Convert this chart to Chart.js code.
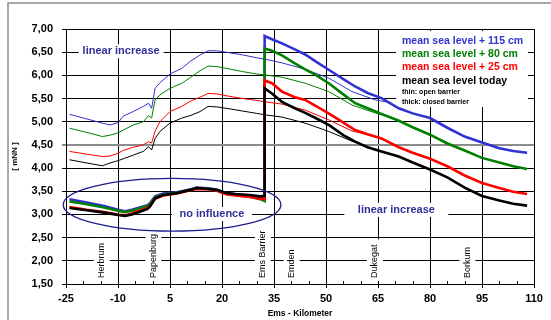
<!DOCTYPE html>
<html>
<head>
<meta charset="utf-8">
<script src="https://cdn.jsdelivr.net/npm/chart.js@4.4.1/dist/chart.umd.min.js"></script>
<style>
    html, body { margin: 0; padding: 0; background: #fff; }
    #wrap { width: 551px; height: 320px; }
</style>
</head>
<body>
<div id="wrap"><canvas id="chart"></canvas></div>
<script>
// Water levels along the Ems, thin = open barrier, thick = closed barrier
var seriesNames = ['mean sea level + 115 cm', 'mean sea level + 80 cm', 'mean sea level + 25 cm', 'mean sea level today'];
var seriesColors = ['#3232d2', '#008000', '#ff0000', '#000000'];

// open barrier (thin lines)
var kmOpen = [-24, -19, -14.5, -12.3, -10, -8.5, -5.6, -2.7, -1.2, -0.3, 0.7, 2.1, 5, 8.4, 10.8, 13.7, 16, 18.5, 22, 26,
    30, 32.3, 37.3, 44, 50.8, 57.5, 64.2, 68, 71, 75, 80, 85, 90, 95, 100, 104, 108];
var openBlue = [5.16, 5.06, 4.97, 4.93, 4.98, 5.12, 5.22, 5.33, 5.40, 5.29, 5.72, 5.84, 6.03, 6.15, 6.30, 6.44, 6.53, 6.53, 6.49, 6.44,
    6.38, 6.35, 6.27, 6.13, 5.94, 5.65, 5.47, 5.42, 5.29, 5.18, 5.08, 4.87, 4.68, 4.55, 4.43, 4.37, 4.33];
var openGreen = [4.86, 4.77, 4.68, 4.71, 4.76, 4.82, 4.93, 5.00, 5.13, 5.08, 5.47, 5.58, 5.72, 5.83, 5.95, 6.10, 6.20, 6.19, 6.14, 6.08,
    6.03, 6.01, 5.96, 5.83, 5.65, 5.36, 5.19, 5.10, 5.02, 4.88, 4.72, 4.55, 4.38, 4.22, 4.12, 4.04, 3.98];
var openRed = [4.36, 4.30, 4.25, 4.26, 4.32, 4.38, 4.45, 4.50, 4.57, 4.54, 4.80, 5.00, 5.22, 5.33, 5.44, 5.53, 5.61, 5.60, 5.55, 5.50,
    5.46, 5.43, 5.38, 5.25, 5.04, 4.80, 4.68, 4.56, 4.45, 4.33, 4.20, 4.04, 3.84, 3.68, 3.57, 3.49, 3.44];
var openBlack = [4.18, 4.11, 4.05, 4.11, 4.16, 4.20, 4.28, 4.36, 4.46, 4.39, 4.64, 4.79, 4.97, 5.08, 5.13, 5.22, 5.33, 5.32, 5.28, 5.23,
    5.18, 5.15, 5.10, 4.97, 4.79, 4.58, 4.40, 4.31, 4.25, 4.12, 3.97, 3.80, 3.58, 3.40, 3.30, 3.23, 3.19];

// closed barrier (thick lines), km 32.3 twice: the jump at the barrier
var kmClosed = [-24, -19, -14, -10, -8, -6, -3.7, -1.5, -0.8, 0.7, 3, 7, 10.8, 12.7, 16.5, 18.5, 21.4, 24, 28, 31, 32.3,
    32.3, 34.4, 37.3, 41, 44, 47, 51, 55, 58.4, 62, 66, 71, 75, 80, 85, 90, 95, 100, 104, 108];
var closedBlue = [3.33, 3.26, 3.18, 3.10, 3.07, 3.10, 3.15, 3.20, 3.24, 3.39, 3.45, 3.48, 3.54, 3.58, 3.56, 3.53, 3.46, 3.43, 3.40, 3.36, 3.34,
    6.85, 6.78, 6.69, 6.56, 6.45, 6.30, 6.11, 5.92, 5.76, 5.62, 5.51, 5.29, 5.18, 5.08, 4.87, 4.68, 4.55, 4.43, 4.37, 4.33];
var closedGreen = [3.28, 3.22, 3.15, 3.08, 3.05, 3.08, 3.13, 3.18, 3.22, 3.37, 3.43, 3.47, 3.53, 3.57, 3.55, 3.52, 3.45, 3.42, 3.38, 3.33, 3.29,
    6.58, 6.53, 6.43, 6.26, 6.13, 6.01, 5.82, 5.59, 5.40, 5.29, 5.17, 5.02, 4.88, 4.72, 4.53, 4.38, 4.22, 4.12, 4.04, 3.98];
var closedRed = [3.16, 3.10, 3.05, 3.00, 2.98, 3.02, 3.08, 3.14, 3.18, 3.34, 3.41, 3.45, 3.52, 3.55, 3.54, 3.51, 3.43, 3.41, 3.38, 3.34, 3.33,
    5.89, 5.83, 5.65, 5.53, 5.47, 5.34, 5.17, 4.98, 4.82, 4.73, 4.64, 4.45, 4.33, 4.20, 4.04, 3.84, 3.68, 3.57, 3.49, 3.44];
var closedBlack = [3.14, 3.09, 3.04, 2.99, 2.97, 3.00, 3.06, 3.12, 3.17, 3.35, 3.42, 3.46, 3.53, 3.57, 3.55, 3.53, 3.46, 3.44, 3.42, 3.39, 3.40,
    5.72, 5.61, 5.43, 5.29, 5.19, 5.08, 4.92, 4.71, 4.57, 4.45, 4.36, 4.25, 4.12, 3.97, 3.80, 3.58, 3.40, 3.30, 3.23, 3.19];

// places along the river
var placeNames = ['Herbrum', 'Papenburg', 'Ems Barrier', 'Emden', 'Dukegat', 'Borkum'];
var placeKm = [-14.7, 0.2, 31.8, 40.1, 64.1, 90.8];

var FONT = 'Arial, "Liberation Sans", sans-serif';
var NAVY = '#30309a';

function toPoints(km, vals) {
    return km.map(function (k, i) { return {x: k, y: vals[i]}; });
}

function line(vals, km, color, width) {
    return {
        data: toPoints(km, vals),
        borderColor: color,
        borderWidth: width,
        pointRadius: 0,
        fill: false,
        tension: 0
    };
}

// first dataset is drawn on top
var datasets = [
    line(closedBlack, kmClosed, seriesColors[3], 2.6),
    line(closedRed, kmClosed, seriesColors[2], 2.6),
    line(closedGreen, kmClosed, seriesColors[1], 2.6),
    line(closedBlue, kmClosed, seriesColors[0], 2.6),
    line(openBlack, kmOpen, seriesColors[3], 1),
    line(openRed, kmOpen, seriesColors[2], 1),
    line(openGreen, kmOpen, seriesColors[1], 1),
    line(openBlue, kmOpen, seriesColors[0], 1)
];

function whiteBox(ctx, x, y, w, h) {
    ctx.fillStyle = '#fff';
    ctx.fillRect(x, y, w, h);
}

var decor = {
    id: 'decor',
    beforeDraw: function (chart) {
        var ctx = chart.ctx;
        ctx.save();
        ctx.fillStyle = '#fff';
        ctx.fillRect(0, 0, chart.width, chart.height);
        // outer frame
        ctx.strokeStyle = '#8c8c8c';
        ctx.lineWidth = 1.5;
        ctx.beginPath();
        ctx.moveTo(chart.width, 3);
        ctx.lineTo(8, 3);
        ctx.lineTo(8, chart.height);
        ctx.stroke();
        ctx.restore();
    },
    beforeDatasetsDraw: function (chart) {
        var ctx = chart.ctx, xs = chart.scales.x, ys = chart.scales.y, a = chart.chartArea;
        ctx.save();

        // legend
        var lx = a.right - 138, ly = a.top + 2;
        whiteBox(ctx, lx, ly, 132, 76);
        ctx.textAlign = 'left';
        ctx.textBaseline = 'middle';
        ctx.font = 'bold 10.5px ' + FONT;
        var rows = [12, 25, 38, 52];
        for (var i = 0; i < seriesNames.length; i++) {
            ctx.fillStyle = seriesColors[i];
            ctx.fillText(seriesNames[i], lx + 6, ly + rows[i] - 2);
        }
        ctx.fillStyle = '#000';
        ctx.font = 'bold 7px ' + FONT;
        ctx.fillText('thin: open barrier', lx + 6, ly + 61);
        ctx.fillText('thick: closed barrier', lx + 6, ly + 71);

        // free texts
        ctx.textAlign = 'center';
        ctx.font = 'bold 11px ' + FONT;
        ctx.fillStyle = NAVY;
        var notes = [
            ['linear increase', -9.1, 6.52, 85],
            ['linear increase', 70.3, 3.10, 104],
            ['no influence', 17.1, 3.01, 80]
        ];
        notes.forEach(function (n) {
            var px = xs.getPixelForValue(n[1]), py = ys.getPixelForValue(n[2]);
            whiteBox(ctx, px - n[3] / 2, py - 7, n[3], 14);
            ctx.fillStyle = NAVY;
            ctx.fillText(n[0], px, py);
        });

        // place names, vertical
        ctx.font = '9px ' + FONT;
        var base = ys.getPixelForValue(1.63);
        placeNames.forEach(function (name, i) {
            var px = xs.getPixelForValue(placeKm[i]);
            var w = ctx.measureText(name).width;
            whiteBox(ctx, px - 8, base - w - 5, 16, w + 8);
            ctx.save();
            ctx.translate(px, base);
            ctx.rotate(-Math.PI / 2);
            ctx.fillStyle = '#000';
            ctx.textAlign = 'left';
            ctx.textBaseline = 'middle';
            ctx.fillText(name, 0, 0);
            ctx.restore();
        });
        ctx.restore();
    },
    afterDatasetsDraw: function (chart) {
        var ctx = chart.ctx, xs = chart.scales.x, ys = chart.scales.y, a = chart.chartArea;
        ctx.save();
        // ellipse round the upstream part
        var cx = xs.getPixelForValue(5.6), cy = ys.getPixelForValue(3.21);
        var rx = xs.getPixelForValue(5.6 + 31.4) - cx, ry = cy - ys.getPixelForValue(3.21 + 0.57);
        ctx.strokeStyle = '#1c1c8c';
        ctx.lineWidth = 1.3;
        ctx.beginPath();
        ctx.ellipse(cx, cy, rx, ry, 0, 0, Math.PI * 2);
        ctx.stroke();

        // minor ticks every 5 km
        ctx.strokeStyle = '#000';
        ctx.lineWidth = 1;
        ctx.beginPath();
        for (var k = -20; k < 110; k += 5) {
            if ((k + 25) % 15 === 0) continue;
            var px = Math.round(xs.getPixelForValue(k)) + 0.5;
            ctx.moveTo(px, a.bottom);
            ctx.lineTo(px, a.bottom - 3);
        }
        ctx.stroke();
        ctx.restore();
    }
};

new Chart(document.getElementById('chart'), {
    type: 'line',
    data: {datasets: datasets},
    plugins: [decor],
    options: {
        responsive: true,
        maintainAspectRatio: false,
        animation: false,
        layout: {padding: {left: 0, right: 17, top: 29, bottom: 0}},
        plugins: {legend: {display: false}, tooltip: {enabled: false}},
        scales: {
            x: {
                type: 'linear',
                min: -25,
                max: 110,
                afterFit: function (s) { s.height = 36; },
                ticks: {stepSize: 15, padding: 4, color: '#000', font: {family: FONT, size: 11, weight: 'bold'}},
                grid: {color: '#000', lineWidth: 1, tickLength: 4},
                border: {color: '#000', width: 1},
                title: {display: true, text: 'Ems - Kilometer', color: '#000',
                    font: {family: FONT, size: 8.5, weight: 'bold'}, padding: {top: 0, bottom: 1}}
            },
            y: {
                min: 1.5,
                max: 7,
                afterFit: function (s) { s.width = 66; },
                ticks: {
                    stepSize: 0.5,
                    padding: 9,
                    color: '#000',
                    font: {family: FONT, size: 11, weight: 'bold'},
                    callback: function (v) { return v.toFixed(2).replace('.', ','); }
                },
                grid: {
                    tickLength: 4,
                    color: function (c) { return c.tick && c.tick.value === 4.5 ? '#8c8c8c' : '#000'; },
                    lineWidth: function (c) { return c.tick && c.tick.value === 4.5 ? 2 : 1; }
                },
                border: {color: '#000', width: 1},
                title: {display: true, text: '[ mNN ]', color: '#000',
                    font: {family: FONT, size: 8, weight: 'bold'}, padding: {top: 10, bottom: 0}}
            }
        }
    }
});
</script>
</body>
</html>
